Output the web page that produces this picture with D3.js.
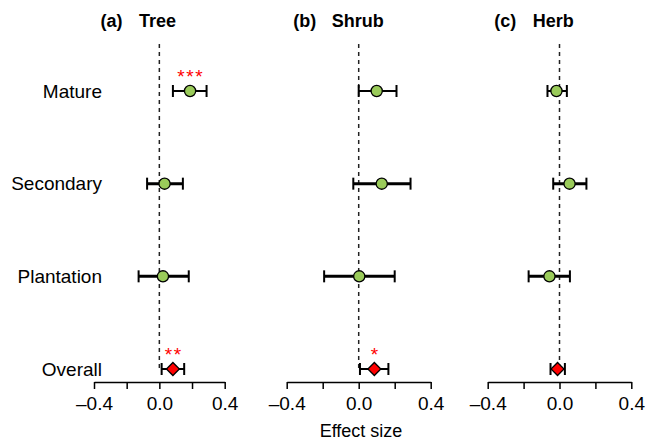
<!DOCTYPE html>
<html>
<head>
<meta charset="utf-8">
<script src="https://cdn.jsdelivr.net/npm/d3@7"></script>
<style>
  body { margin: 0; background: #fff; }
  svg text { font-family: "Liberation Sans", Arial, Helvetica, sans-serif; }
</style>
</head>
<body>
<svg id="forest" width="646" height="442"></svg>
<script>
/* DATA */
const rows = ["Mature", "Secondary", "Plantation", "Overall"];
const panels = ["Tree", "Shrub", "Herb"];
const panelTags = ["(a)", "(b)", "(c)"];

// effect size, lower CI, upper CI (same order as rows)
const treeMean = [0.188, 0.032, 0.022, 0.083];
const treeLow  = [0.083, -0.075, -0.127, 0.014];
const treeHigh = [0.289, 0.144, 0.180, 0.152];

const shrubMean = [0.100, 0.128, 0.003, 0.087];
const shrubLow  = [0.000, -0.030, -0.192, 0.007];
const shrubHigh = [0.210, 0.288, 0.200, 0.165];

const herbMean = [-0.017, 0.056, -0.056, -0.011];
const herbLow  = [-0.067, -0.035, -0.172, -0.050];
const herbHigh = [0.041, 0.150, 0.058, 0.030];

const treeStars  = ["***", "", "", "**"];
const shrubStars = ["", "", "", "*"];
const herbStars  = ["", "", "", ""];

const tickValues = [-0.4, -0.2, 0, 0.2, 0.4];
const tickLabels = ["\u20130.4", "", "0.0", "", "0.4"];

/* LAYOUT */
const svg = d3.select("svg#forest");
const axisY = 382;
const panelRanges = [[94, 224.7], [286.7, 430.7], [487.7, 631.3]];
const barWidth = { "Mature": 2, "Secondary": 3, "Plantation": 3, "Overall": 2 };

const rowScale = d3.scalePoint().domain(rows).range([91, 369]);

const allMeans = [treeMean, shrubMean, herbMean];
const allLows = [treeLow, shrubLow, herbLow];
const allHighs = [treeHigh, shrubHigh, herbHigh];
const allStars = [treeStars, shrubStars, herbStars];

/* ROW LABELS */
svg.append("g").selectAll("text")
  .data(rows)
  .join("text")
  .attr("x", 102)
  .attr("y", d => rowScale(d) + 6.5)
  .attr("text-anchor", "end")
  .style("font-size", "19px")
  .text(d => d);

/* PANELS */
for (let p = 0; p < panels.length; p++) {
  let xScale = d3.scaleLinear().domain([-0.4, 0.4]).range(panelRanges[p]);
  let g = svg.append("g").attr("id", "panel-" + panels[p]);

  let pts = rows.map((r, i) => ({
    row: r,
    mean: allMeans[p][i],
    low: allLows[p][i],
    high: allHighs[p][i],
    stars: allStars[p][i]
  }));

  // title
  let title = g.append("text")
    .attr("x", panelRanges[p][0] + 6.6)
    .attr("y", 27)
    .style("font-size", "18px")
    .style("font-weight", "bold");
  title.append("tspan").text(panelTags[p]);
  title.append("tspan").attr("x", panelRanges[p][0] + 45).text(panels[p]);

  // zero line
  g.append("line")
    .attr("x1", xScale(0)).attr("x2", xScale(0))
    .attr("y1", 44).attr("y2", 372)
    .attr("stroke", "#222")
    .attr("stroke-width", 1.5)
    .attr("stroke-dasharray", "4,4");

  // axis
  let axis = d3.axisBottom(xScale)
    .tickValues(tickValues)
    .tickFormat((d, i) => tickLabels[i])
    .tickSize(7)
    .tickPadding(7.5)
    .tickSizeOuter(0);
  let ax = g.append("g")
    .attr("transform", "translate(0," + axisY + ")")
    .call(axis);
  ax.select(".domain").attr("stroke", "#000").attr("stroke-width", 1.5);
  ax.selectAll(".tick line").attr("stroke", "#000").attr("stroke-width", 1.5);
  ax.selectAll(".tick text")
    .attr("fill", "#000")
    .style("font-size", "19px")
    .style("font-family", "'Liberation Sans', Arial, Helvetica, sans-serif");

  // error bars
  g.append("g").selectAll("line")
    .data(pts)
    .join("line")
    .attr("x1", d => xScale(d.low))
    .attr("x2", d => xScale(d.high))
    .attr("y1", d => rowScale(d.row))
    .attr("y2", d => rowScale(d.row))
    .attr("stroke", "#000")
    .attr("stroke-width", d => barWidth[d.row]);

  let caps = g.append("g");
  pts.forEach(d => {
    [d.low, d.high].forEach(v => {
      caps.append("line")
        .attr("x1", xScale(v)).attr("x2", xScale(v))
        .attr("y1", rowScale(d.row) - 6)
        .attr("y2", rowScale(d.row) + 6)
        .attr("stroke", "#000")
        .attr("stroke-width", 2);
    });
  });

  // group points (circles) and overall (diamond)
  g.append("g").selectAll("circle")
    .data(pts.filter(d => d.row !== "Overall"))
    .join("circle")
    .attr("cx", d => xScale(d.mean))
    .attr("cy", d => rowScale(d.row))
    .attr("r", 5.6)
    .attr("fill", "#9acb5a")
    .attr("stroke", "#000")
    .attr("stroke-width", 1.3);

  g.append("g").selectAll("path")
    .data(pts.filter(d => d.row === "Overall"))
    .join("path")
    .attr("d", d3.symbol().type(d3.symbolSquare).size(84))
    .attr("transform", d => "translate(" + xScale(d.mean) + "," + rowScale(d.row) + ") rotate(45)")
    .attr("fill", "#ff0000")
    .attr("stroke", "#000")
    .attr("stroke-width", 1.3);

  // significance stars
  g.append("g").selectAll("text")
    .data(pts.filter(d => d.stars !== ""))
    .join("text")
    .attr("x", d => xScale(d.mean) + 0.8)
    .attr("y", d => rowScale(d.row) - 8.5)
    .attr("text-anchor", "middle")
    .attr("fill", "#ff0000")
    .style("font-size", "19px")
    .style("letter-spacing", "1.6px")
    .text(d => d.stars);
}

/* AXIS TITLE */
svg.append("text")
  .attr("x", 361)
  .attr("y", 437)
  .attr("text-anchor", "middle")
  .style("font-size", "18px")
  .text("Effect size");
</script>
</body>
</html>
